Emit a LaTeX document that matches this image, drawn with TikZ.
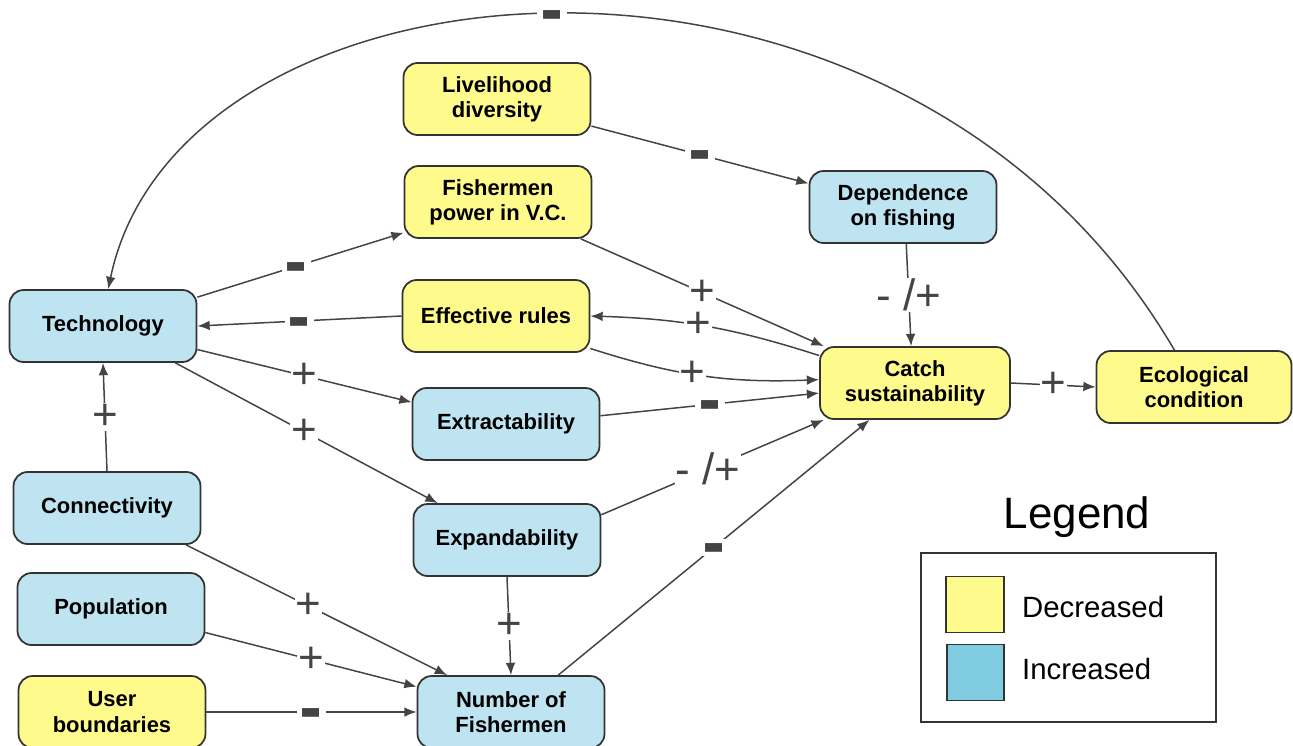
\documentclass[tikz,border=0pt]{standalone}
\usepackage{fontspec}
\setmainfont{Liberation Sans}
\usepackage{graphicx}
\usetikzlibrary{arrows.meta}

\definecolor{decfill}{HTML}{FFFA8C}
\definecolor{incfill}{HTML}{BDE4F0}
\definecolor{legblue}{HTML}{7FCBE0}
\definecolor{edgegray}{HTML}{444444}
\newcommand{\negmark}{\raisebox{-0.55em}[0.14em][0.14em]{\scalebox{0.78}[2.0]{\bfseries --}}}

\begin{document}
\begin{tikzpicture}[
  x=0.02cm, y=-0.02cm,
  factor/.style={draw=black!80, line width=1pt, rounded corners=8pt, align=center, minimum width=3.74cm, minimum height=1.44cm, inner sep=2pt, font=\fontsize{12.5}{14.3}\selectfont\bfseries},
  decbox/.style={factor, fill=decfill},
  incbox/.style={factor, fill=incfill},
  swatch/.style={draw=black!80, line width=1pt, minimum width=1.15cm, minimum height=1.12cm, inner sep=0pt},
  link/.style={-{Latex[length=7pt,width=5.5pt]}, draw=edgegray, line width=0.85pt},
  sign/.style={fill=white, inner sep=0.5pt, text=edgegray, font=\fontsize{25}{25}\selectfont},
  negsign/.style={sign, inner xsep=3pt, inner ysep=1.5pt},
  legtext/.style={anchor=west, font=\fontsize{16.7}{18}\selectfont}
]
\useasboundingbox (0,0) rectangle (1293,745);

% factors
\node[decbox] (liv) at (497,99) {Livelihood\\diversity};
\node[decbox] (fpow) at (498,202) {Fishermen\\power in V.C.};
\node[incbox] (dep) at (903,207) {Dependence\\on fishing};
\node[incbox] (tech) at (103,326) {Technology};
\node[decbox] (rules) at (496,316) {Effective rules};
\node[decbox, minimum width=3.8cm] (catch) at (915,383) {Catch\\sustainability};
\node[decbox, minimum width=3.9cm] (eco) at (1194,387) {Ecological\\condition};
\node[incbox] (extr) at (506,424) {Extractability};
\node[incbox] (conn) at (107,508) {Connectivity};
\node[incbox] (expa) at (507,540) {Expandability};
\node[incbox] (pop) at (111,609) {Population};
\node[decbox] (ubound) at (112,712) {User\\boundaries};
\node[incbox] (nfish) at (511,712) {Number of\\Fishermen};

% links
\draw[link] (eco.118) .. controls (900,-120) and (180,-55) .. node[negsign, pos=0.51] {\negmark} (tech.82);
\draw[link] (liv.-16) -- node[negsign] {\negmark} (dep.166);
\draw[link] (tech.17) -- node[negsign, pos=0.48] {\negmark} (fpow.198);
\draw[link] (rules.west) -- node[negsign] {\negmark} (tech.east);
\draw[link] (fpow.-24) -- node[sign] {+} (catch.158);
\draw[link] (catch.164) to[bend right=8] node[sign, pos=0.54] {+} (rules.east);
\draw[link] (rules.-19) to[bend right=10] node[sign, pos=0.45] {+} (catch.178);
\draw[link] (tech.-14) -- node[sign] {+} (extr.167);
\draw[link] (tech.-27) -- node[sign, pos=0.49] {+} (expa.152);
\draw[link] (extr.5) -- node[negsign] {\negmark} (catch.186);
\draw[link] (expa.15) -- node[sign, pos=0.48] {- /+} (catch.202);
\draw[link] (nfish.38) -- node[negsign] {\negmark} (catch.219);
\draw[link] (dep.-85) -- node[sign] {- /+} (catch.96);
\draw[link] (catch.east) -- node[sign] {+} (eco.west);
\draw[link] (conn.north) -- node[sign] {+} (tech.south);
\draw[link] (conn.-25) -- node[sign, pos=0.47] {+} (nfish.150);
\draw[link] (pop.-14) -- node[sign] {+} (nfish.165);
\draw[link] (ubound.east) -- node[negsign] {\negmark} (nfish.west);
\draw[link] (expa.south) -- node[sign] {+} (nfish.north);

% legend
\node[font=\fontsize{25}{25}\selectfont] (legtitle) at (1077,517) {Legend};
\node[draw=black!80, line width=0.8pt, minimum width=5.9cm, minimum height=3.38cm] (legbox) at (1068.5,637.5) {};
\node[swatch, fill=decfill] (legdec) at (975,604.5) {};
\node[swatch, fill=legblue] (leginc) at (975.5,672.5) {};
\node[legtext] (legdectxt) at (1016,607) {Decreased};
\node[legtext] (leginctxt) at (1016,669) {Increased};

\end{tikzpicture}
\end{document}
